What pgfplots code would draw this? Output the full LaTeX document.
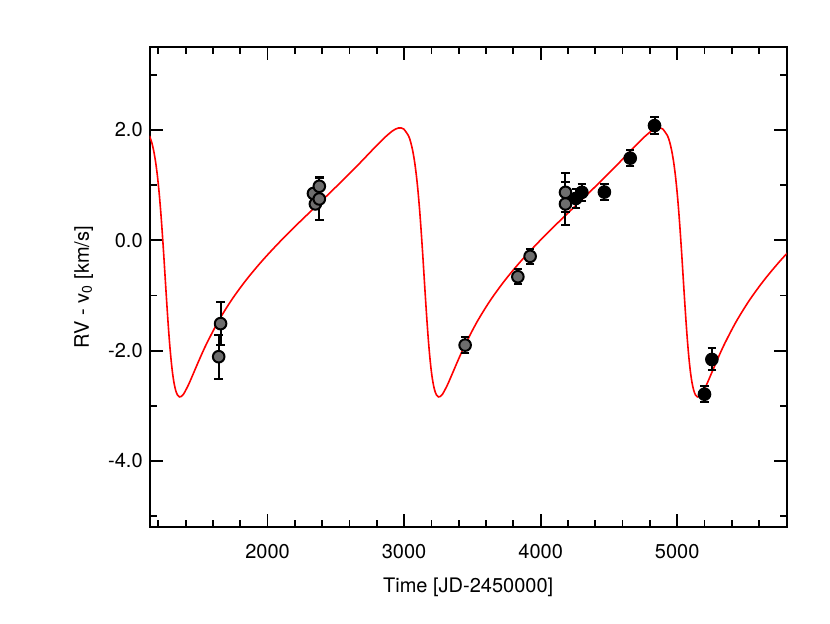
\documentclass[border=0pt]{standalone}
\usepackage{fontspec}
\setmainfont{TeX Gyre Heros}
\usepackage{pgfplots}
\usepackage{pgfplotstable}
\pgfplotsset{compat=1.18}
\usetikzlibrary{calc}
\definecolor{ptgray}{RGB}{110,110,110}

\pgfplotstableread{
x y
1135.3 1.895
1151.0 1.782
1165.7 1.628
1179.5 1.429
1192.5 1.184
1204.8 0.891
1216.6 0.551
1227.8 0.173
1238.8 -0.232
1249.4 -0.652
1260.0 -1.069
1270.6 -1.466
1281.2 -1.825
1292.2 -2.137
1303.4 -2.393
1315.2 -2.588
1327.5 -2.724
1340.5 -2.806
1354.3 -2.839
1369.0 -2.830
1384.7 -2.788
1419.3 -2.627
1458.6 -2.403
1503.2 -2.146
1553.1 -1.876
1638.3 -1.473
1735.4 -1.085
1843.2 -0.719
1959.8 -0.373
2082.5 -0.045
2208.5 0.269
2334.5 0.570
2457.2 0.863
2573.8 1.146
2681.6 1.416
2778.7 1.667
2863.9 1.878
2913.8 1.982
2936.8 2.017
2958.4 2.037
2978.7 2.038
2997.7 2.018
3032.3 1.895
3048.0 1.782
3062.7 1.628
3076.5 1.429
3089.5 1.184
3101.8 0.891
3113.6 0.551
3124.8 0.173
3135.8 -0.232
3146.4 -0.652
3157.0 -1.069
3167.6 -1.466
3178.2 -1.825
3189.2 -2.137
3200.4 -2.393
3212.2 -2.588
3224.5 -2.724
3237.5 -2.806
3251.3 -2.839
3266.0 -2.830
3281.7 -2.788
3316.3 -2.627
3355.6 -2.403
3400.2 -2.146
3450.1 -1.876
3535.3 -1.473
3632.4 -1.085
3740.2 -0.719
3856.8 -0.373
3979.5 -0.045
4105.5 0.269
4231.5 0.570
4354.2 0.863
4470.8 1.146
4578.6 1.416
4675.7 1.667
4760.9 1.878
4810.8 1.982
4833.8 2.017
4855.4 2.037
4875.7 2.038
4894.7 2.018
4929.3 1.895
4945.0 1.782
4959.7 1.628
4973.5 1.429
4986.5 1.184
4998.8 0.891
5010.6 0.551
5021.8 0.173
5032.8 -0.232
5043.4 -0.652
5054.0 -1.069
5064.6 -1.466
5075.2 -1.825
5086.2 -2.137
5097.4 -2.393
5109.2 -2.588
5121.5 -2.724
5134.5 -2.806
5148.3 -2.839
5163.0 -2.830
5178.7 -2.788
5213.3 -2.627
5252.6 -2.403
5297.2 -2.146
5347.1 -1.876
5432.3 -1.473
5529.4 -1.085
5637.2 -0.719
5753.8 -0.373
5876.5 -0.045
}\modeltable

\pgfplotstableread{
x y e
1642 -2.11 0.40
1656 -1.51 0.39
2336 0.85 0.08
2350 0.66 0.08
2379 0.75 0.38
2379 0.98 0.17
3447 -1.90 0.14
3833 -0.66 0.14
3923 -0.29 0.14
4182 0.66 0.39
4182 0.87 0.35
}\graytable

\pgfplotstableread{
x y e
4258 0.76 0.17
4302 0.87 0.16
4467 0.875 0.15
4656 1.49 0.15
4834 2.08 0.16
5200 -2.79 0.15
5254 -2.16 0.20
}\blacktable

\begin{document}
\begin{tikzpicture}
\begin{axis}[name=ax, at={(0,0)}, anchor=south west,
  scale only axis, width=318.4pt, height=239.85pt,
  xmin=1137, xmax=5802, ymin=-5.2, ymax=3.5,
  xtick={2000,3000,4000,5000}, xticklabels={2000,3000,4000,5000},
  minor xtick={1200,1400,...,5800},
  ytick={-4,-2,0,2}, yticklabels={-4.0,-2.0,0.0,2.0},
  minor ytick={-5,-3,-1,1,3},
  tick align=inside,
  major tick length=6.5pt, minor tick length=3.5pt,
  axis line style={line width=0.9pt, black},
  every tick/.style={black, line width=0.9pt},
  tick label style={font=\fontsize{10}{12}\selectfont},
  xticklabel style={yshift=-5pt},
  every axis x label/.style={at={(axis description cs:0.5,-0.125)}, anchor=center, font=\fontsize{10}{12}\selectfont},
  every axis y label/.style={at={(axis description cs:-0.1036,0.5)}, rotate=90, anchor=center, font=\fontsize{10}{12}\selectfont},
  xlabel={Time [JD-2450000]},
  ylabel={RV - v\textsubscript{0} [km/s]},
  clip mode=individual,
]
\addplot[red, line width=0.8pt, smooth] table[x=x, y=y] {\modeltable};
\addplot[only marks, mark=*, mark size=2.9pt, mark options={fill=ptgray, draw=black, line width=1pt},
  error bars/.cd, y dir=both, y explicit,
  error bar style={line width=1pt, black},
  error mark=-,
  error mark options={line width=1pt, black, mark size=2.1pt, rotate=90}]
  table[x=x, y=y, y error=e] {\graytable};
\addplot[only marks, mark=*, mark size=2.9pt, mark options={fill=black, draw=black, line width=1pt},
  error bars/.cd, y dir=both, y explicit,
  error bar style={line width=1pt, black},
  error mark=-,
  error mark options={line width=1pt, black, mark size=2.1pt, rotate=90}]
  table[x=x, y=y, y error=e] {\blacktable};
\end{axis}
\pgfresetboundingbox
\path[use as bounding box] ($(ax.south west)+(-74.85pt,-48pt)$) rectangle ($(ax.north east)+(21.65pt,23.65pt)$);
\end{tikzpicture}
\end{document}
